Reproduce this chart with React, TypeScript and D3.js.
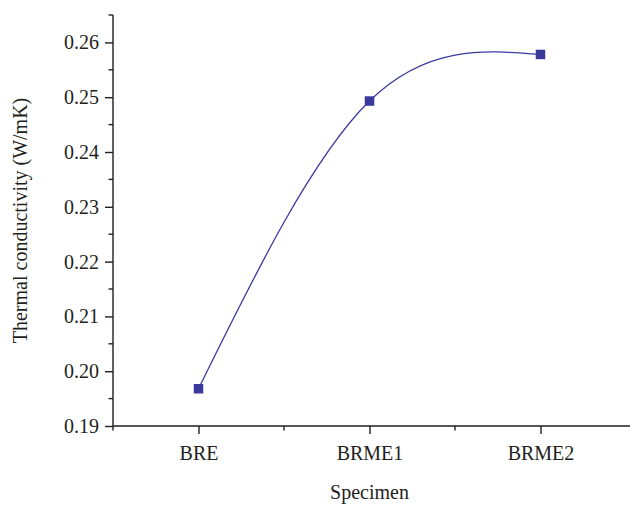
import React, { useEffect, useRef } from 'react';
import * as d3 from 'd3';

const specimens = ['BRE', 'BRME1', 'BRME2'];
const conductivity = [0.1968, 0.2493, 0.2578];
const yTicks = [0.19, 0.2, 0.21, 0.22, 0.23, 0.24, 0.25, 0.26];
const yMinorTicks = [0.195, 0.205, 0.215, 0.225, 0.235, 0.245, 0.255, 0.265];

export default function App() {
  const svgRef = useRef<SVGSVGElement>(null);

  useEffect(() => {
    const width = 630;
    const height = 505;
    const left = 113, right = 626, top = 15, bottom = 426;
    const font = '"Liberation Serif", "Times New Roman", serif';
    const ink = '#231f20';
    const blue = '#3b3a9c';
    const fs = 20;

    const svg = d3.select(svgRef.current);
    svg.selectAll('*').remove();
    svg.attr('width', width).attr('height', height);

    // Scales
    const x = d3.scalePoint<string>().domain(specimens).range([left, right]).padding(0.5);
    const y = d3.scaleLinear().domain([0.19, 0.265]).range([bottom, top]);
    const step = x.step();
    const xMinor = d3.range(specimens.length).map(i => left + i * step);

    // Y axis
    const yAxisG = svg.append('g').attr('transform', `translate(${left},0)`);
    yAxisG.call(d3.axisLeft(y).tickValues(yTicks).tickFormat(d3.format('.2f')).tickSize(8).tickPadding(6));
    yAxisG.select('.domain').remove();
    yAxisG.selectAll('.tick line').attr('stroke', ink).attr('stroke-width', 1.4);
    yAxisG.selectAll('.tick text')
      .attr('font-family', font).attr('font-size', fs).attr('fill', ink);
    yAxisG.selectAll('.minor')
      .data(yMinorTicks)
      .enter()
      .append('line')
      .attr('x1', -4.5).attr('x2', 0)
      .attr('y1', d => y(d)).attr('y2', d => y(d))
      .attr('stroke', ink).attr('stroke-width', 1.4);

    // X axis
    const xAxisG = svg.append('g').attr('transform', `translate(0,${bottom})`);
    xAxisG.call(d3.axisBottom(x).tickSize(8).tickPadding(8));
    xAxisG.select('.domain').remove();
    xAxisG.selectAll('.tick line').attr('stroke', ink).attr('stroke-width', 1.4);
    xAxisG.selectAll('.tick text')
      .attr('font-family', font).attr('font-size', fs).attr('fill', ink)
      .attr('dy', '0.9em');
    xAxisG.selectAll('.minor')
      .data(xMinor)
      .enter()
      .append('line')
      .attr('x1', d => d).attr('x2', d => d)
      .attr('y1', 0).attr('y2', 4.5)
      .attr('stroke', ink).attr('stroke-width', 1.4);

    // Axis lines
    svg.append('path')
      .attr('d', `M${left},${top}V${bottom}H${width}`)
      .attr('fill', 'none')
      .attr('stroke', ink)
      .attr('stroke-width', 1.4);

    // Axis titles
    svg.append('text')
      .attr('transform', `translate(27,${(top + bottom) / 2}) rotate(-90)`)
      .attr('text-anchor', 'middle')
      .attr('font-family', font).attr('font-size', fs).attr('fill', ink)
      .text('Thermal conductivity (W/mK)');

    svg.append('text')
      .attr('x', (left + right) / 2)
      .attr('y', 499)
      .attr('text-anchor', 'middle')
      .attr('font-family', font).attr('font-size', fs).attr('fill', ink)
      .text('Specimen');

    // Spline
    const pts = specimens.map((s, i) => ({ s, v: conductivity[i] }));
    const line = d3.line<{ s: string; v: number }>()
      .x(d => x(d.s) as number)
      .y(d => y(d.v))
      .curve(d3.curveNatural);

    svg.append('path')
      .datum(pts)
      .attr('d', line)
      .attr('fill', 'none')
      .attr('stroke', blue)
      .attr('stroke-width', 1.3);

    // Markers
    const size = 9.5;
    svg.selectAll('.marker')
      .data(pts)
      .enter()
      .append('rect')
      .attr('class', 'marker')
      .attr('x', d => (x(d.s) as number) - size / 2)
      .attr('y', d => y(d.v) - size / 2)
      .attr('width', size)
      .attr('height', size)
      .attr('fill', blue);
  }, []);

  return (
    <div style={{ position: 'absolute', left: 0, top: 0, background: '#fff' }}>
      <svg ref={svgRef} style={{ display: 'block' }}></svg>
    </div>
  );
}
